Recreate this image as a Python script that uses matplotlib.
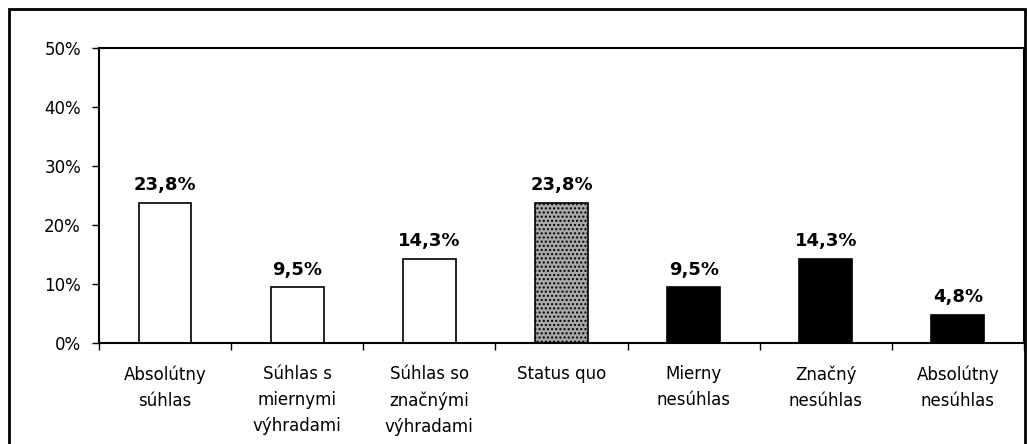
import matplotlib
matplotlib.use("Agg")
import matplotlib.pyplot as plt
from matplotlib.patches import Rectangle
import numpy as np

categories = ["Absolútny\nsúhlas", "Súhlas s\nmiernymi\nvýhradami", "Súhlas so\nznačnými\nvýhradami",
              "Status quo", "Mierny\nnesúhlas", "Značný\nnesúhlas", "Absolútny\nnesúhlas"]
values = [23.8, 9.5, 14.3, 23.8, 9.5, 14.3, 4.8]
colors = ["white", "white", "white", "#a8a8a8", "black", "black", "black"]
value_labels = ["23,8%", "9,5%", "14,3%", "23,8%", "9,5%", "14,3%", "4,8%"]

W, H = 1027, 444
fig = plt.figure(figsize=(W / 100, H / 100), dpi=100)
ax = fig.add_axes([99 / W, (H - 343) / H, (1024 - 99) / W, (343 - 48) / H])

x = np.arange(len(categories))
bars = ax.bar(x, values, width=0.4, color=colors, edgecolor="black", linewidth=1.2)
bars[3].set_hatch("....")

for xi, v, lab in zip(x, values, value_labels):
    ax.text(xi, v + 1.4, lab, ha="center", va="bottom", fontsize=13, fontweight="bold")

ax.set_xlim(-0.5, len(categories) - 0.5)
ax.set_ylim(0, 50)
ax.set_yticks(range(0, 51, 10))
ax.set_yticklabels([f"{t}%" for t in range(0, 51, 10)], fontsize=12)
ax.set_xticks(x)
ax.set_xticklabels(categories, fontsize=12, linespacing=1.58)
ax.tick_params(axis="x", which="major", length=0, pad=16)
ax.set_xticks(np.arange(-0.5, len(categories)), minor=True)
ax.tick_params(axis="x", which="minor", length=5, width=1)
ax.tick_params(axis="y", length=5, width=1, pad=8)
for s in ax.spines.values():
    s.set_linewidth(1.5)

fig.patches.append(Rectangle((9 / W, -0.1), (1025 - 9) / W, 1.1 - 9 / H,
                             transform=fig.transFigure, fill=False,
                             edgecolor="black", linewidth=2))

fig.savefig("out.png", dpi=100)
